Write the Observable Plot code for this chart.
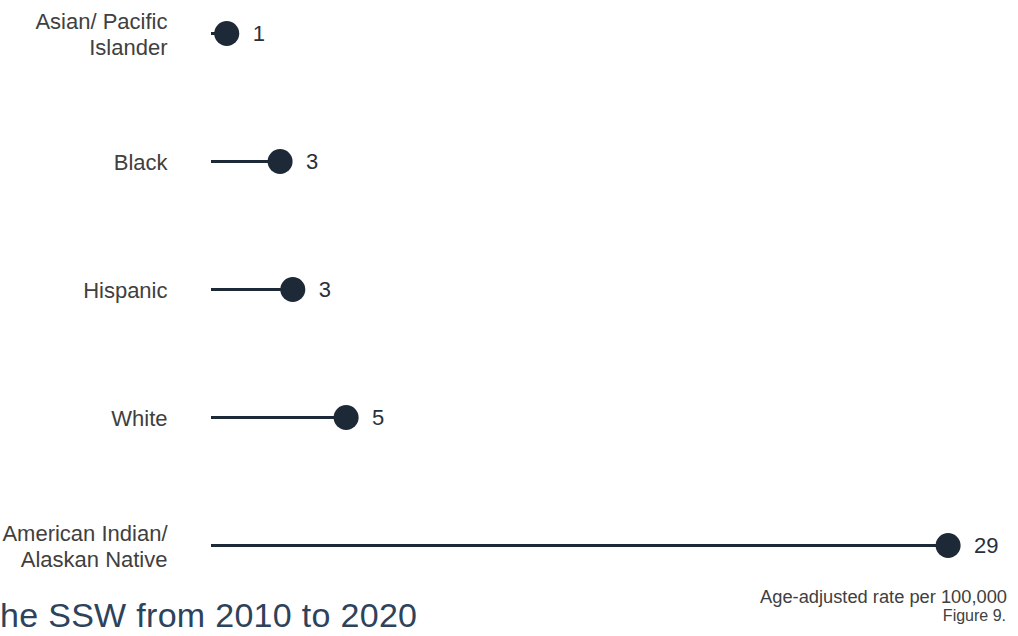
<!DOCTYPE html>
<html>
<head>
<meta charset="utf-8">
<script src="https://cdn.jsdelivr.net/npm/d3@7"></script>
<script src="https://cdn.jsdelivr.net/npm/@observablehq/plot@0.6"></script>
<style>
  html, body { margin: 0; padding: 0; background: #fff; overflow: hidden; }
  body { position: relative; width: 1018px; height: 636px; font-family: "Liberation Sans", Arial, sans-serif; }
  #footer { position: absolute; left: 0; top: 560px; width: 1018px; height: 76px; }
  #title { position: absolute; left: 0px; top: 38px; font-size: 34px; line-height: 34px; letter-spacing: 0.3px; color: #2d435c; white-space: nowrap; }
  #note { position: absolute; right: 11px; top: 28px; font-size: 18.3px; line-height: 18.3px; color: #404040; white-space: nowrap; }
  #fig { position: absolute; right: 12px; top: 48px; font-size: 16px; line-height: 16px; color: #404040; white-space: nowrap; }
</style>
</head>
<body>
<div id="chart"></div>
<div id="footer">
  <div id="title">he SSW from 2010 to 2020</div>
  <div id="note">Age-adjusted rate per 100,000</div>
  <div id="fig">Figure 9.</div>
</div>
<script>
const categories = ["Asian/ Pacific Islander", "Black", "Hispanic", "White", "American Indian/ Alaskan Native"];
const tickLabels = ["Asian/ Pacific\nIslander", "Black", "Hispanic", "White", "American Indian/\nAlaskan Native"];
const rates = [0.6, 2.7, 3.2, 5.3, 29.0];

const data = categories.map((c, i) => ({category: c, rate: rates[i]}));
const labelOf = new Map(categories.map((c, i) => [c, tickLabels[i]]));
const fmt = d3.format(".0f");
const ink = "#1e2938";

const chart = Plot.plot({
  width: 1018,
  height: 636,
  marginLeft: 211,
  marginRight: 45,
  marginTop: 32,
  marginBottom: 90,
  style: {fontFamily: "'Liberation Sans', Arial, sans-serif", fontSize: "22px", background: "transparent", overflow: "visible"},
  x: {domain: [0, 30], axis: null},
  y: {type: "point", domain: categories, padding: 0, axis: null},
  marks: [
    Plot.axisY({
      tickSize: 0,
      tickPadding: 44,
      fontSize: 22,
      lineHeight: 1.2,
      fill: "#404040",
      label: null,
      tickFormat: d => labelOf.get(d)
    }),
    Plot.ruleY(data, {y: "category", x1: 0, x2: "rate", stroke: ink, strokeWidth: 3}),
    Plot.dot(data, {x: "rate", y: "category", r: 12.5, fill: ink, stroke: "none"}),
    Plot.text(data, {x: "rate", y: "category", text: d => fmt(d.rate), dx: 26, textAnchor: "start", fontSize: 22, fill: "#2a303b"})
  ]
});
document.getElementById("chart").appendChild(chart);
</script>
</body>
</html>
